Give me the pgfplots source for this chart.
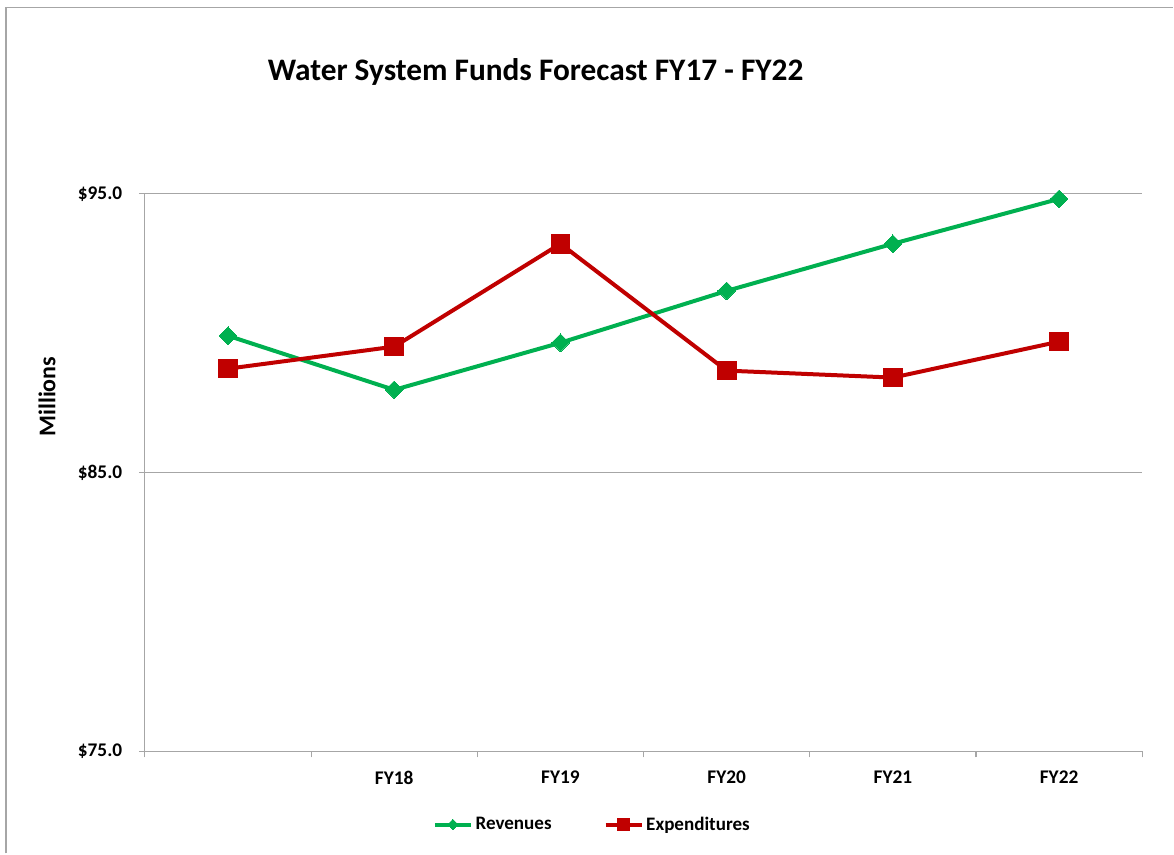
\documentclass[border=0pt]{standalone}
\usepackage{pgfplots}
\pgfplotsset{compat=1.18}
\usepackage{fontspec}
\setmainfont{Carlito}
\definecolor{rev}{RGB}{0,176,80}
\definecolor{exp}{RGB}{192,0,0}
\definecolor{axgray}{RGB}{166,166,166}
\begin{document}
\begin{tikzpicture}
\path (0,0) rectangle (880.5pt,640.5pt);
\draw[axgray, line width=1.2pt] (4.5pt,0pt) -- (4.5pt,635pt) -- (880.5pt,635pt);
\node[font=\bfseries\fontsize{23.5}{27}\selectfont] at (402pt,586.5pt) {Water System Funds Forecast FY17 - FY22};
\node[font=\bfseries\fontsize{18}{20}\selectfont, rotate=90] at (35.25pt,342.75pt) {Millions};
\begin{axis}[
  at={(108.75pt,76.5pt)}, anchor=south west,
  scale only axis, width=748.5pt, height=418.5pt,
  xmin=-0.5, xmax=5.5, ymin=75, ymax=95,
  axis lines=left, axis line style={-, axgray, line width=0.8pt},
  xtick={-0.5,0.5,1.5,2.5,3.5,4.5,5.5},
  xticklabels={,,,,,,},
  extra x ticks={1,2,3,4,5},
  extra x tick labels={FY18,FY19,FY20,FY21,FY22},
  extra x tick style={major tick length=0pt, xtick style={draw=none}},
  ytick={75,85,95},
  yticklabels={\$75.0,\$85.0,\$95.0},
  tick align=outside, major tick length=4.5pt,
  tick style={axgray, line width=0.8pt},
  ymajorgrids, grid style={axgray, line width=0.8pt},
  ticklabel style={font=\bfseries\fontsize{14.5}{17}\selectfont, text=black},
  xticklabel style={yshift=-11pt},
  yticklabel style={xshift=-9pt},
  clip=false,
  legend columns=2,
  legend style={draw=none, fill=none, at={(0.449,-0.131)}, anchor=center,
    font=\bfseries\fontsize{14.3}{16}\selectfont,
    /tikz/every even column/.append style={column sep=37pt},
    inner sep=0pt},
  legend image code/.code={
    \draw[mark repeat=2, mark phase=2, every mark/.append style={scale=0.6}] plot coordinates {(0pt,0pt) (13.5pt,0pt) (27pt,0pt)};
  },
]
\addplot[rev, line width=3pt, mark=square*, mark size=4.7pt,
  mark options={rotate=45, solid, fill=rev, line width=0pt}] coordinates {
  (0,89.91) (1,87.97) (2,89.66) (3,91.52) (4,93.21) (5,94.82)};
\addlegendentry{Revenues}
\addplot[exp, line width=3pt, mark=square*, mark size=7pt,
  mark options={solid, fill=exp, line width=0pt}] coordinates {
  (0,88.73) (1,89.52) (2,93.21) (3,88.66) (4,88.41) (5,89.70)};
\addlegendentry{Expenditures}
\end{axis}
\end{tikzpicture}
\end{document}
